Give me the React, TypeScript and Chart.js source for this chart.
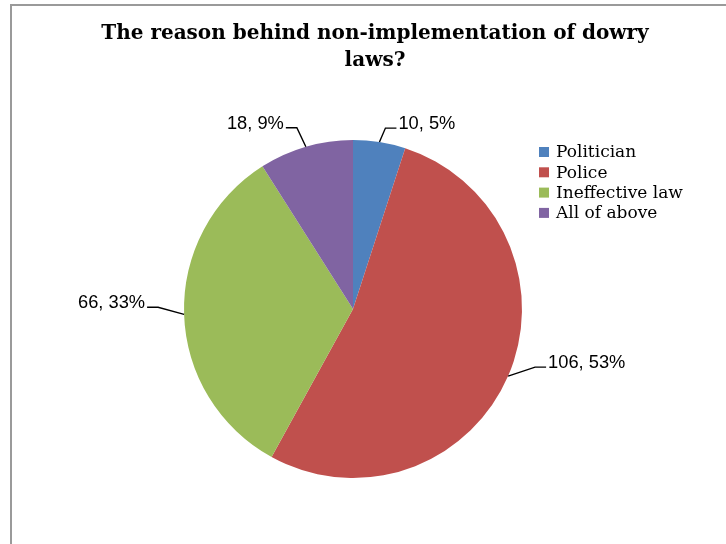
import React, { useEffect, useRef } from "react";
import { Chart, registerables } from "chart.js";

Chart.register(...registerables);

// ---- data ----
const categories = ["Politician", "Police", "Ineffective law", "All of above"];
const counts = [10, 106, 66, 18];
const percents = [5, 53, 33, 9];
const titleLines = ["The reason behind non-implementation of dowry", "laws?"];

// ---- styles ----
const colors = ["#4F81BD", "#C0504D", "#9BBB59", "#8064A2"];
const TITLE_FONT = "bold 20px 'DejaVu Serif'";
const LEGEND_FONT = "17px 'DejaVu Serif'";
const LABEL_FONT = "18.3px 'Liberation Sans', Arial, sans-serif";
// leader-line elbow offsets (label placement) relative to the slice edge point
const leaderElbow: [number, number][] = [
  [6, -14],
  [27, -9],
  [-26, -7],
  [-9, -19],
];

const titlePlugin = {
  id: "customTitle",
  afterDraw(chart: any) {
    const ctx = chart.ctx;
    ctx.save();
    ctx.font = TITLE_FONT;
    ctx.fillStyle = "#000";
    ctx.textAlign = "center";
    ctx.textBaseline = "alphabetic";
    const cx = (chart.chartArea.left + chart.chartArea.right) / 2 + 22;
    titleLines.forEach((t, i) => ctx.fillText(t, cx, 39 + i * 27));
    ctx.restore();
  },
};

const legendPlugin = {
  id: "customLegend",
  afterDraw(chart: any) {
    const ctx = chart.ctx;
    const x0 = chart.chartArea.right + 17;
    const y0 = 152;
    const step = 20.3;
    ctx.save();
    ctx.font = LEGEND_FONT;
    ctx.textBaseline = "middle";
    ctx.textAlign = "left";
    categories.forEach((c, i) => {
      const y = y0 + i * step;
      ctx.fillStyle = colors[i];
      ctx.fillRect(x0, y - 5, 10, 10);
      ctx.fillStyle = "#000";
      ctx.fillText(c, x0 + 17, y + 1);
    });
    ctx.restore();
  },
};

const labelPlugin = {
  id: "outsideLabels",
  afterDatasetsDraw(chart: any) {
    const ctx = chart.ctx;
    const meta = chart.getDatasetMeta(0);
    ctx.save();
    ctx.font = LABEL_FONT;
    ctx.strokeStyle = "#000";
    ctx.lineWidth = 1.4;
    ctx.fillStyle = "#000";
    ctx.textBaseline = "middle";
    meta.data.forEach((arc: any, i: number) => {
      const p = arc.getProps(["x", "y", "startAngle", "endAngle", "outerRadius"], true);
      const mid = (p.startAngle + p.endAngle) / 2;
      const ex = p.x + Math.cos(mid) * p.outerRadius;
      const ey = p.y + Math.sin(mid) * p.outerRadius;
      const [dx, dy] = leaderElbow[i];
      const bx = ex + dx;
      const by = ey + dy;
      const side = dx >= 0 ? 1 : -1;
      const hx = bx + side * 11;
      ctx.beginPath();
      ctx.moveTo(ex, ey);
      ctx.lineTo(bx, by);
      ctx.lineTo(hx, by);
      ctx.stroke();
      ctx.textAlign = side > 0 ? "left" : "right";
      ctx.fillText(`${counts[i]}, ${percents[i]}%`, hx + side * 2, by - 4);
    });
    ctx.restore();
  },
};

export default function App() {
  const ref = useRef<HTMLCanvasElement>(null);
  useEffect(() => {
    if (!ref.current) return;
    const chart = new Chart(ref.current, {
      type: "pie",
      data: {
        labels: categories,
        datasets: [
          {
            data: counts,
            backgroundColor: colors,
            borderWidth: 0,
          },
        ],
      },
      options: {
        responsive: false,
        animation: false,
        events: [],
        layout: { padding: { left: 184, right: 204, top: 140, bottom: 66 } },
        plugins: {
          legend: { display: false },
          title: { display: false },
          tooltip: { enabled: false },
        },
      },
      plugins: [titlePlugin, legendPlugin, labelPlugin],
    });
    return () => chart.destroy();
  }, []);

  return (
    <div
      style={{
        position: "absolute",
        left: 0,
        top: 0,
        width: 726,
        height: 544,
        overflow: "hidden",
        background: "#fff",
      }}
    >
      <div
        style={{
          position: "absolute",
          left: 10,
          top: 4,
          width: 900,
          height: 900,
          border: "2px solid #9a9a9a",
          boxSizing: "border-box",
        }}
      />
      <canvas
        ref={ref}
        width={726}
        height={544}
        style={{ position: "absolute", left: 0, top: 0 }}
      />
    </div>
  );
}
